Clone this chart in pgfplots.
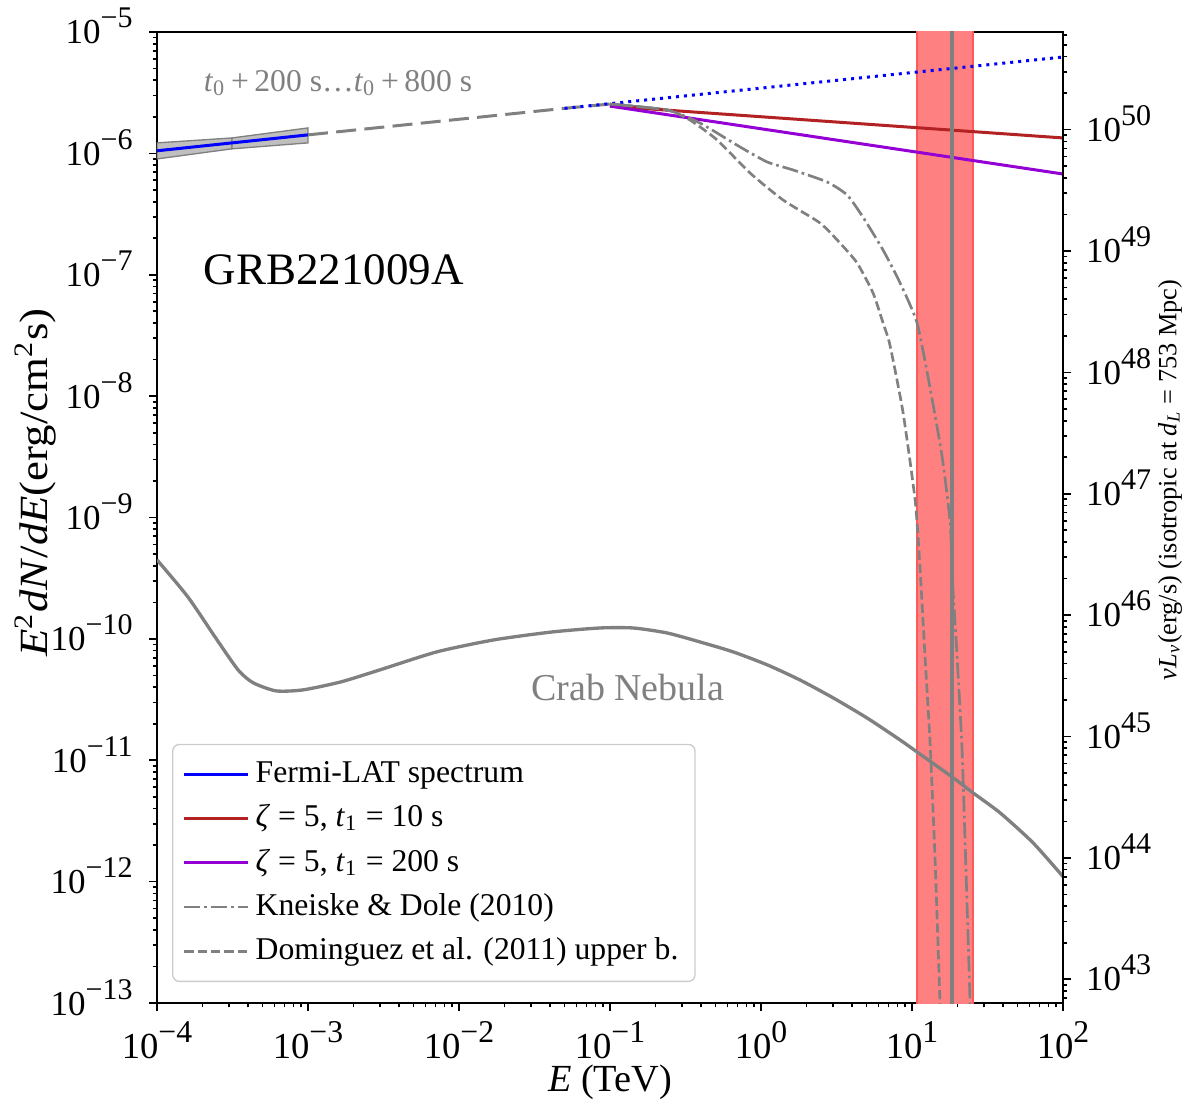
\documentclass[border=0pt]{standalone}
\usepackage{graphicx}
\usepackage{pgfplots}
\pgfplotsset{compat=1.18}
\usepackage{fontspec}
\setmainfont{Liberation Serif}

\definecolor{fire}{RGB}{178,34,34}
\definecolor{dviolet}{RGB}{148,0,211}
\definecolor{mgray}{RGB}{128,128,128}
\definecolor{bandred}{RGB}{255,128,128}
\definecolor{bandedge}{RGB}{255,90,90}
\definecolor{lgray}{RGB}{191,191,191}

% 10^n in the text font
\newcommand\sups[2]{\raisebox{0.48em}{\fontsize{#2}{#2}\selectfont #1}}
\newcommand\logl[3]{\pgfmathtruncatemacro\ee{round(#1)}{\fontsize{#2}{#2}\selectfont 10}\sups{\ifnum\ee<0 −\number-\ee\else\ee\fi}{#3}}

\begin{document}
\begin{tikzpicture}
\begin{axis}[
  scale only axis, width=271.8pt, height=291.3pt,
  xmode=log, ymode=log, log basis x=10, log basis y=10,
  xmin=1e-4, xmax=1e2, ymin=1e-13, ymax=1e-5,
  xtick={1e-4,1e-3,1e-2,1e-1,1,1e1,1e2},
  minor xtick={2e-4,3e-4,4e-4,5e-4,6e-4,7e-4,8e-4,9e-4,
    2e-3,3e-3,4e-3,5e-3,6e-3,7e-3,8e-3,9e-3,
    2e-2,3e-2,4e-2,5e-2,6e-2,7e-2,8e-2,9e-2,
    2e-1,3e-1,4e-1,5e-1,6e-1,7e-1,8e-1,9e-1,
    2,3,4,5,6,7,8,9,20,30,40,50,60,70,80,90},
  ytick={1e-13,1e-12,1e-11,1e-10,1e-9,1e-8,1e-7,1e-6,1e-5},
  minor ytick={2e-13,3e-13,4e-13,5e-13,6e-13,7e-13,8e-13,9e-13,
    2e-12,3e-12,4e-12,5e-12,6e-12,7e-12,8e-12,9e-12,
    2e-11,3e-11,4e-11,5e-11,6e-11,7e-11,8e-11,9e-11,
    2e-10,3e-10,4e-10,5e-10,6e-10,7e-10,8e-10,9e-10,
    2e-9,3e-9,4e-9,5e-9,6e-9,7e-9,8e-9,9e-9,
    2e-8,3e-8,4e-8,5e-8,6e-8,7e-8,8e-8,9e-8,
    2e-7,3e-7,4e-7,5e-7,6e-7,7e-7,8e-7,9e-7,
    2e-6,3e-6,4e-6,5e-6,6e-6,7e-6,8e-6,9e-6},
  xticklabel={\logl{\tick}{11}{9.5}},
  yticklabel={\logl{\tick}{10.5}{9}},
  xticklabel style={anchor=base, yshift=-14.1pt},
  yticklabel style={anchor=base east, yshift=-3.6pt, xshift=-1.4pt},
  xtick pos=left, ytick pos=left,
  tick align=outside,
  major tick length=2.4pt, minor tick length=1.3pt,
  every tick/.style={black, line width=0.5pt},
  axis line style={line width=0.6pt},
  every axis x label/.style={at={(axis description cs:0.5,-0.0906)}, anchor=base, inner sep=0pt},
  every axis y label/.style={at={(axis description cs:-0.1214,0.536)}, rotate=90, anchor=base, inner sep=0pt},
  xlabel={\textit{E} (TeV)},
  ylabel={\scalebox{1.12}[1]{\textit{E}\textsuperscript{2}\textit{dN}/\textit{dE}(erg/cm\textsuperscript{2}s)}},
  xlabel style={font=\fontsize{11.5}{14}\selectfont},
  ylabel style={font=\fontsize{12}{14}\selectfont},
  legend style={at={(0.0166,0.0216)}, anchor=south west,
    draw={rgb,255:red,204;green,204;blue,204}, rounded corners=2pt,
    font=\fontsize{9.5}{11}\selectfont, row sep=1.2pt,
    inner xsep=3pt, inner ysep=3pt},
  legend cell align=left,
  legend image code/.code={\draw[#1] (0pt,0pt) -- (19pt,0pt);},
]
% observation window
\addplot[fill=bandred, draw=bandedge, line width=0.4pt, forget plot]
  coordinates {(10.8,1e-14) (25.3,1e-14) (25.3,1e-4) (10.8,1e-4)} -- cycle;
% Fermi-LAT butterfly
\addplot[fill=lgray, draw=mgray, line width=0.4pt, forget plot]
  coordinates {(1e-4,1.22e-6) (3.14e-4,1.34e-6) (3.14e-4,1.09e-6) (1e-4,9.0e-7)} -- cycle;
\addplot[fill=lgray, draw=mgray, line width=0.4pt, forget plot]
  coordinates {(3.14e-4,1.34e-6) (1e-3,1.62e-6) (1e-3,1.22e-6) (3.14e-4,1.09e-6)} -- cycle;
\addplot[blue, line width=0.9pt] coordinates {(1e-4,1.05e-6) (1e-3,1.42e-6)};
\addlegendentry{Fermi-LAT spectrum}
% extrapolations
\addplot[mgray, line width=0.9pt, dash pattern=on 6pt off 2.5pt, forget plot]
  coordinates {(1e-3,1.42e-6) (1e-2,1.91e-6) (0.05,2.35e-6) (0.1,2.55e-6) (0.15,2.42e-6) (0.24,2.28e-6)};
\addplot[blue, line width=0.9pt, dash pattern=on 0.9pt off 1.5pt, forget plot]
  coordinates {(0.05,2.35e-6) (100,6.22e-6)};
\addplot[fire, line width=0.9pt] coordinates {(0.1,2.45e-6) (100,1.34e-6)};
\addlegendentry{\textit{ζ} = 5, \textit{t}\textsubscript{1} = 10 s}
\addplot[dviolet, line width=0.9pt] coordinates {(0.1,2.45e-6) (100,6.76e-7)};
\addlegendentry{\textit{ζ} = 5, \textit{t}\textsubscript{1} = 200 s}
% EBL attenuated
\addplot[mgray, line width=0.8pt, smooth, tension=0.35, dash pattern=on 4.8pt off 1.2pt on 0.8pt off 1.2pt]
  coordinates {(0.1,2.55e-6) (0.238,2.28e-6) (0.394,1.78e-6) (0.726,1.13e-6) (1.10,8.49e-7)
  (1.63,7.30e-7) (2.74,5.81e-7) (3.72,4.54e-7) (4.73,2.99e-7) (6.43,1.60e-7) (8.34,8.55e-8)
  (10.8,4.01e-8) (13.2,1.15e-8) (15.8,3.21e-9) (17.9,9.02e-10) (18.7,2.54e-10) (19.9,7.11e-11)
  (21.4,1.32e-11) (22.4,2.38e-12) (24.2,1.07e-13) (24.6,3e-14)};
\addlegendentry{Kneiske \& Dole (2010)}
\addplot[mgray, line width=0.8pt, smooth, tension=0.35, dash pattern=on 2.8pt off 1.2pt]
  coordinates {(0.1,2.55e-6) (0.238,2.28e-6) (0.339,1.88e-6) (0.512,1.29e-6) (0.845,6.90e-7)
  (1.40,4.13e-7) (2.46,2.67e-7) (3.33,1.83e-7) (4.33,1.25e-7) (5.52,7.08e-8) (6.43,4.01e-8)
  (7.14,2.64e-8) (8.71,7.41e-9) (10.5,1.37e-9) (11.3,3.85e-10) (12.2,7.11e-11) (13.2,1.32e-11)
  (14.2,1.57e-12) (15.3,1.07e-13) (15.8,3.2e-14)};
\addlegendentry{Dominguez et al. (2011) upper b.}
% Crab Nebula
\addplot[mgray, line width=1pt, smooth, tension=0.4, forget plot]
  coordinates {(1e-4,4.48e-10) (1.60e-4,2.22e-10) (2.42e-4,1.04e-10) (3.44e-4,5.56e-11)
  (4.33e-4,4.35e-11) (6.14e-4,3.73e-11) (9.27e-4,3.80e-11) (1.66e-3,4.43e-11) (3.00e-3,5.56e-11)
  (7.14e-3,7.82e-11) (0.0171,9.82e-11) (0.0413,1.14e-10) (0.0859,1.23e-10) (0.142,1.23e-10)
  (0.238,1.12e-10) (0.394,9.44e-11) (0.653,7.82e-11) (1.10,6.11e-11) (1.81,4.59e-11)
  (3.00,3.27e-11) (5.04,2.23e-11) (8.34,1.47e-11) (10.8,1.17e-11) (18.4,7.30e-12)
  (25.4,5.38e-12) (38.3,3.69e-12) (63.3,2.09e-12) (100,1.10e-12)};
\addplot[mgray, line width=1pt, forget plot] coordinates {(18.4,1e-14) (18.4,1e-4)};
\node[anchor=west, inner sep=0pt, text=mgray, font=\fontsize{9.5}{12}\selectfont] at (axis cs:2.02e-4,3.8e-6)
  {\textit{t}\textsubscript{0}\,+\,200 s…\textit{t}\textsubscript{0}\,+\,800 s};
\node[anchor=west, inner sep=0pt, font=\fontsize{13.5}{16}\selectfont] at (axis cs:2.02e-4,1.1e-7) {GRB221009A};
\node[inner sep=0pt, text=mgray, font=\fontsize{11.4}{13}\selectfont] at (axis cs:0.131,3.95e-11) {Crab Nebula};
\coordinate (SW) at (rel axis cs:0,0);
\coordinate (NE) at (rel axis cs:1,1);
\end{axis}
\begin{axis}[
  scale only axis, width=271.8pt, height=291.3pt,
  xmode=log, ymode=log, log basis y=10,
  xmin=1e-4, xmax=1e2, ymin=6.383e42, ymax=6.383e50,
  axis x line=none, axis y line*=right, xtick=\empty,
  ytick={1e43,1e44,1e45,1e46,1e47,1e48,1e49,1e50},
  minor ytick={7e42,8e42,9e42,
    2e43,3e43,4e43,5e43,6e43,7e43,8e43,9e43,
    2e44,3e44,4e44,5e44,6e44,7e44,8e44,9e44,
    2e45,3e45,4e45,5e45,6e45,7e45,8e45,9e45,
    2e46,3e46,4e46,5e46,6e46,7e46,8e46,9e46,
    2e47,3e47,4e47,5e47,6e47,7e47,8e47,9e47,
    2e48,3e48,4e48,5e48,6e48,7e48,8e48,9e48,
    2e49,3e49,4e49,5e49,6e49,7e49,8e49,9e49,
    2e50,3e50,4e50,5e50,6e50},
  yticklabel={\logl{\tick}{10.5}{9}},
  yticklabel style={anchor=base west, yshift=-3.5pt, xshift=1pt},
  tick align=outside,
  major tick length=2.4pt, minor tick length=1.3pt,
  every tick/.style={black, line width=0.5pt},
  axis line style={line width=0.6pt},
  every axis y label/.style={at={(axis description cs:1.1251,0.5386)}, rotate=90, anchor=base, inner sep=0pt},
  ylabel={\textit{ν}\textit{L}\textsubscript{\textit{ν}}(erg/s) (isotropic at \textit{d}\textsubscript{\textit{L}} = 753 Mpc)},
  ylabel style={font=\fontsize{7.9}{9}\selectfont},
]
\end{axis}
\pgfresetboundingbox
\path ([shift={(-47.1pt,-28.8pt)}]SW) rectangle ([shift={(36.9pt,9.6pt)}]NE);
\end{tikzpicture}
\end{document}
